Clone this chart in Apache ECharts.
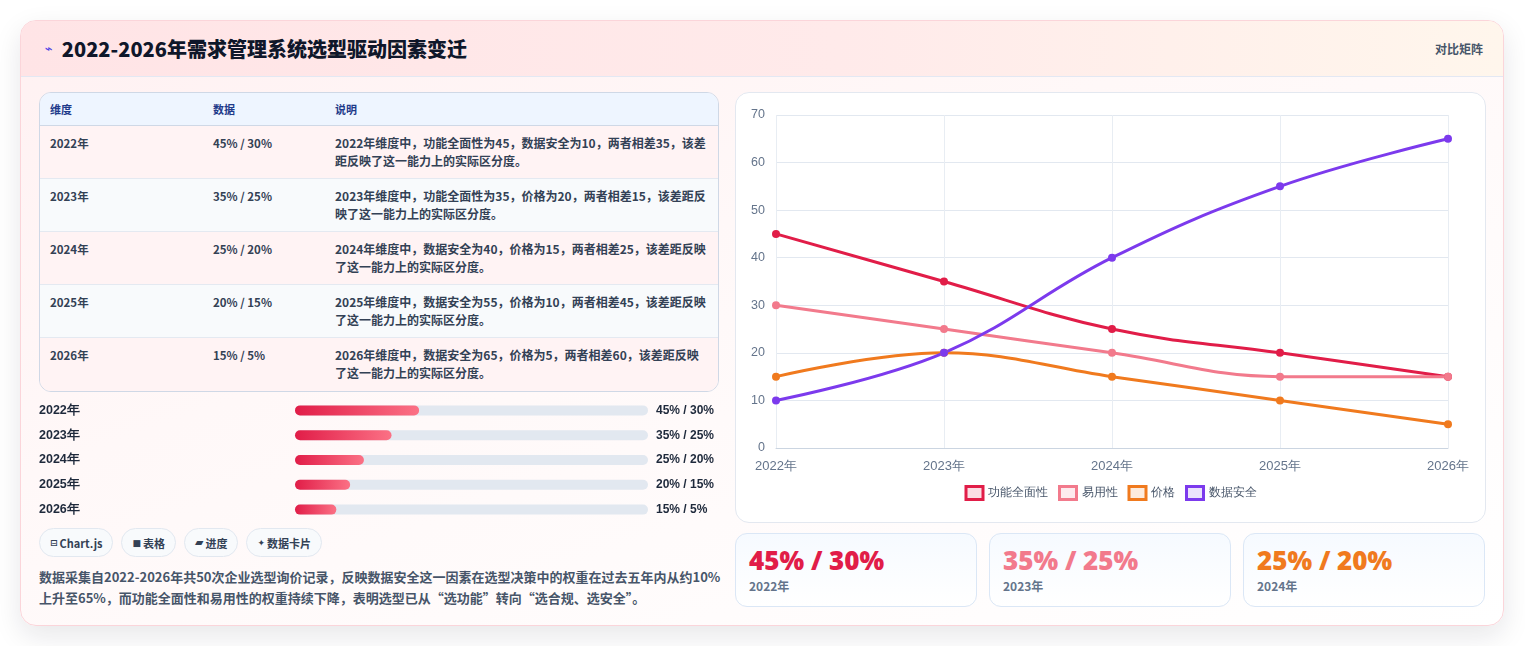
<!DOCTYPE html>
<html lang="zh-CN">
<head>
<meta charset="utf-8">
<title>2022-2026年需求管理系统选型驱动因素变迁</title>
<script src="https://cdn.jsdelivr.net/npm/echarts@6/dist/echarts.min.js"></script>
<style>
  * { box-sizing: border-box; margin: 0; padding: 0; }
  body {
    width: 1525px; height: 646px; overflow: hidden; background: #ffffff;
    font-family: "Noto Sans CJK SC", "Noto Sans", sans-serif; color: #334155;
  }
  .card {
    position: absolute; left: 20px; top: 20px; width: 1484px; height: 606px;
    border: 1px solid #fbd5da; border-radius: 16px; overflow: hidden;
    background: linear-gradient(160deg, #fff1f2 0%, #fff8f8 40%, #ffffff 100%);
    box-shadow: 0 10px 28px rgba(15, 23, 42, 0.10);
  }
  .head {
    height: 56px; display: flex; align-items: center; justify-content: space-between;
    padding: 0 20px 0 24px; border-bottom: 1px solid #e3e8f3;
    background: linear-gradient(90deg, #ffe4e6 0%, #ffeaea 55%, #fff6ec 100%);
  }
  .head h1 { font-size: 20px; font-weight: 900; color: #0f172a; display: flex; align-items: center; }
  .head h1 .ic { font-size: 13px; color: #4f46e5; margin-right: 9px; font-family: "DejaVu Sans", sans-serif; }
  .head .tag { font-size: 12px; font-weight: 600; color: #475569; }
  .left { position: absolute; left: 18px; top: 71px; width: 680px; }
  table {
    width: 680px; border-collapse: separate; border-spacing: 0;
    border: 1px solid #cfd8e6; border-radius: 12px; overflow: hidden; table-layout: fixed;
  }
  th {
    height: 33px; background: #eef5ff; text-align: left; font-size: 11px; font-weight: 700;
    color: #1e3a8a; padding: 0 10px; border-bottom: 1px solid #cfd8e6;
  }
  td {
    height: 53px; font-size: 12px; font-weight: 600; color: #334155; vertical-align: top;
    padding: 8px 10px 0 10px; line-height: 18px; border-bottom: 1px solid #e4e9f1;
  }
  td:first-child, td:nth-child(2) { font-size: 11.5px; }
  td:last-child { padding-right: 10px; }
  tr:last-child td { border-bottom: none; }
  tbody tr:nth-child(odd) td { background: #fff3f4; }
  tbody tr:nth-child(even) td { background: #f8fafc; }
  #progress { position: absolute; left: -3px; top: 306px; width: 685px; height: 124px; }
  .pills { position: absolute; left: 0; top: 436px; display: flex; gap: 8px; }
  .pill {
    height: 29px; padding: 0 10px; border: 1px solid #e2e8f0; border-radius: 15px;
    background: #f8fafc; font-size: 11px; font-weight: 700; color: #334155;
    display: flex; align-items: center;
  }
  .pill .g { font-family: "DejaVu Sans", sans-serif; font-size: 9px; margin-right: 2px; }
  .pill .g.w { font-size: 11px; }
  .note {
    position: absolute; left: 0; top: 474px; width: 690px; font-size: 13px; line-height: 21px;
    font-weight: 600; color: #475569;
  }
  .chartbox {
    position: absolute; left: 714px; top: 71px; width: 751px; height: 431px;
    background: #ffffff; border: 1px solid #e3e8f0; border-radius: 14px;
  }
  #line { width: 749px; height: 429px; }
  .stats { position: absolute; left: 714px; top: 512px; width: 751px; display: flex; gap: 12px; }
  .stat {
    width: 242px; height: 74px; border: 1px solid #dbe7f6; border-radius: 12px;
    background: linear-gradient(180deg, #f6faff 0%, #ffffff 100%); padding: 10px 13px 0 13px;
  }
  .stat .v { font-size: 26px; font-weight: 800; line-height: 32px; font-family: "Open Sans", "Noto Sans CJK SC", sans-serif; }
  .stat .k { font-size: 12px; font-weight: 700; color: #64748b; margin-top: 1px; }
</style>
</head>
<body>
<div class="card">
  <div class="head">
    <h1><span class="ic">⌁</span>2022-2026年需求管理系统选型驱动因素变迁</h1>
    <span class="tag">对比矩阵</span>
  </div>

  <div class="left">
    <table>
      <colgroup><col style="width:163px"><col style="width:122px"><col></colgroup>
      <thead><tr><th>维度</th><th>数据</th><th>说明</th></tr></thead>
      <tbody id="rows"></tbody>
    </table>
    <div id="progress"></div>
    <div class="pills">
      <div class="pill"><span class="g">⊟</span>Chart.js</div>
      <div class="pill"><span class="g">■</span>表格</div>
      <div class="pill"><span class="g w">▰</span>进度</div>
      <div class="pill"><span class="g">✦</span>数据卡片</div>
    </div>
    <div class="note">数据采集自2022-2026年共50次企业选型询价记录，反映数据安全这一因素在选型决策中的权重在过去五年内从约10%上升至65%，而功能全面性和易用性的权重持续下降，表明选型已从“选功能”转向“选合规、选安全”。</div>
  </div>

  <div class="chartbox"><div id="line"></div></div>
  <div class="stats" id="stats"></div>
</div>

<script>
// ---- data ----
var years = ['2022年', '2023年', '2024年', '2025年', '2026年'];
var seriesNames = ['功能全面性', '易用性', '价格', '数据安全'];
var featureValues = [45, 35, 25, 20, 15];
var usabilityValues = [30, 25, 20, 15, 15];
var priceValues = [15, 20, 15, 10, 5];
var securityValues = [10, 20, 40, 55, 65];
var ratioLabels = ['45% / 30%', '35% / 25%', '25% / 20%', '20% / 15%', '15% / 5%'];
var rowNotes = [
  '2022年维度中，功能全面性为45，数据安全为10，两者相差35，该差距反映了这一能力上的实际区分度。',
  '2023年维度中，功能全面性为35，价格为20，两者相差15，该差距反映了这一能力上的实际区分度。',
  '2024年维度中，数据安全为40，价格为15，两者相差25，该差距反映了这一能力上的实际区分度。',
  '2025年维度中，数据安全为55，价格为10，两者相差45，该差距反映了这一能力上的实际区分度。',
  '2026年维度中，数据安全为65，价格为5，两者相差60，该差距反映了这一能力上的实际区分度。'
];
var yTicks = { min: 0, max: 70, interval: 10 };
var progressMax = 128;

var colors = ['#e11d48', '#f27a8c', '#f07a1e', '#7c3aed'];
var lightColors = ['rgba(225,29,72,0.15)', 'rgba(242,122,140,0.15)', 'rgba(240,122,30,0.15)', 'rgba(124,58,237,0.15)'];

// ---- table ----
var tbody = document.getElementById('rows');
years.forEach(function (y, i) {
  var tr = document.createElement('tr');
  tr.innerHTML = '<td>' + y + '</td><td>' + ratioLabels[i] + '</td><td>' + rowNotes[i] + '</td>';
  tbody.appendChild(tr);
});

// ---- stat cards (first three years) ----
var stats = document.getElementById('stats');
for (var s = 0; s < 3; s++) {
  var d = document.createElement('div');
  d.className = 'stat';
  d.innerHTML = '<div class="v" style="color:' + colors[s] + '">' + ratioLabels[s] + '</div><div class="k">' + years[s] + '</div>';
  stats.appendChild(d);
}

// ---- progress bars ----
var progress = echarts.init(document.getElementById('progress'));
progress.setOption({
  animation: false,
  grid: { left: 253, right: 73, top: 0, bottom: 0 },
  xAxis: { type: 'value', min: 0, max: progressMax, show: false },
  yAxis: [
    {
      type: 'category', data: years, inverse: true,
      axisLine: { show: false }, axisTick: { show: false },
      axisLabel: { align: 'left', margin: 256, fontSize: 12.5, fontWeight: 'bold', color: '#1e293b' }
    },
    {
      type: 'category', data: ratioLabels, inverse: true, position: 'right',
      axisLine: { show: false }, axisTick: { show: false },
      axisLabel: { align: 'left', margin: 8, fontSize: 12, fontWeight: 'bold', color: '#1e293b' }
    }
  ],
  series: [{
    type: 'bar', data: featureValues, barWidth: 10, yAxisIndex: 0,
    showBackground: true,
    backgroundStyle: { color: '#e2e8f0', borderRadius: 5 },
    itemStyle: {
      borderRadius: 5,
      color: new echarts.graphic.LinearGradient(0, 0, 1, 0, [
        { offset: 0, color: '#e11d48' }, { offset: 1, color: '#fb7185' }
      ])
    }
  }]
});

// ---- line chart ----
var valueSets = [featureValues, usabilityValues, priceValues, securityValues];
var line = echarts.init(document.getElementById('line'));
line.setOption({
  animation: false,
  grid: { left: 40, right: 37, top: 22, bottom: 74 },
  legend: {
    bottom: 16, left: 'center', icon: 'rect', itemWidth: 17, itemHeight: 13, itemGap: 10,
    textStyle: { fontSize: 12, color: '#475569' },
    data: seriesNames.map(function (n, i) {
      return { name: n, itemStyle: { color: lightColors[i], borderColor: colors[i], borderWidth: 3 } };
    })
  },
  xAxis: {
    type: 'category', data: years, boundaryGap: false,
    axisLine: { lineStyle: { color: '#cbd5e1' } }, axisTick: { show: false },
    axisLabel: { fontSize: 13, color: '#64748b', margin: 12 },
    splitLine: { show: true, lineStyle: { color: '#e8edf3' } }
  },
  yAxis: {
    type: 'value', min: yTicks.min, max: yTicks.max, interval: yTicks.interval,
    axisLine: { show: false }, axisTick: { show: false },
    axisLabel: { fontSize: 12.5, color: '#64748b', margin: 11 },
    splitLine: { lineStyle: { color: '#e2e8f0' } }
  },
  series: seriesNames.map(function (n, i) {
    return {
      name: n, type: 'line', data: valueSets[i], smooth: 0.4,
      symbol: 'circle', symbolSize: 8,
      lineStyle: { color: colors[i], width: 3 },
      itemStyle: { color: colors[i] }
    };
  })
});
</script>
</body>
</html>
